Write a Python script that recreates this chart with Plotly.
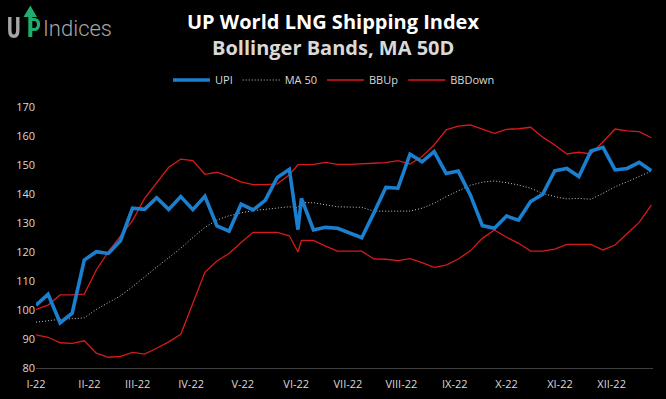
import plotly.graph_objects as go

# ---------------- data ----------------
dates = [
    "2022-01-01", "2022-01-08", "2022-01-15", "2022-01-22", "2022-01-29",
    "2022-02-05", "2022-02-12", "2022-02-19", "2022-02-26", "2022-03-05",
    "2022-03-12", "2022-03-19", "2022-03-26", "2022-04-02", "2022-04-09",
    "2022-04-16", "2022-04-23", "2022-04-30", "2022-05-07", "2022-05-14",
    "2022-05-21", "2022-05-28", "2022-06-02", "2022-06-04", "2022-06-11",
    "2022-06-18", "2022-06-25", "2022-07-02", "2022-07-09", "2022-07-16",
    "2022-07-23", "2022-07-30", "2022-08-06", "2022-08-13", "2022-08-20",
    "2022-08-27", "2022-09-03", "2022-09-10", "2022-09-17", "2022-09-24",
    "2022-10-01", "2022-10-08", "2022-10-15", "2022-10-22", "2022-10-29",
    "2022-11-05", "2022-11-12", "2022-11-19", "2022-11-26", "2022-12-03",
    "2022-12-10", "2022-12-17", "2022-12-24",
]

upi = [
    101.7, 105.4, 95.6, 98.9, 117.2, 120.1, 119.5, 123.9, 135.1, 134.7,
    138.7, 134.7, 139.1, 134.6, 139.2, 129.0, 127.2, 136.5, 134.5, 137.8,
    145.7, 148.5, 127.7, 138.5, 127.6, 128.5, 128.2, 126.6, 124.9, 133.4,
    142.3, 142.0, 153.7, 151.1, 154.6, 147.1, 147.9, 139.7, 129.1, 128.2,
    132.4, 131.0, 137.4, 139.9, 148.0, 148.8, 146.0, 154.8, 156.1, 148.3,
    148.8, 150.9, 148.0,
]

ma50 = [
    95.8, 96.3, 96.8, 97.0, 97.3, 100.2, 102.6, 104.9, 108.0, 111.5,
    114.8, 118.0, 121.3, 125.0, 128.5, 131.0, 132.5, 133.5, 134.3, 134.7,
    135.1, 135.6, 135.3, 137.0, 137.0, 136.4, 135.6, 135.5, 135.4, 134.1,
    134.1, 134.2, 134.1, 135.1, 136.8, 139.1, 141.1, 143.0, 144.1, 144.5,
    143.9, 143.1, 142.0, 140.2, 139.1, 138.3, 138.5, 138.2, 140.2, 142.5,
    144.2, 146.0, 147.9,
]

bb_up = [
    100.2, 101.7, 105.2, 105.2, 105.5, 113.8, 120.1, 125.3, 130.8, 138.5,
    143.7, 149.2, 152.0, 151.5, 146.8, 147.5, 146.0, 144.2, 143.2, 143.2,
    143.5, 146.6, 150.1, 150.1, 150.2, 150.9, 150.2, 150.2, 150.3, 150.6,
    150.8, 151.5, 150.3, 152.9, 156.9, 162.1, 163.4, 163.8, 162.4, 160.9,
    162.3, 162.5, 163.0, 159.6, 156.9, 153.8, 154.4, 153.8, 158.0, 162.4,
    161.8, 161.5, 159.4,
]

bb_down = [
    91.4, 90.6, 88.7, 88.5, 89.4, 85.1, 83.7, 84.0, 85.4, 84.8,
    86.8, 89.0, 91.6, 102.3, 113.0, 116.9, 119.5, 123.3, 126.8, 126.8,
    126.8, 125.6, 120.0, 124.0, 124.0, 122.0, 120.3, 120.3, 120.3, 117.6,
    117.5, 117.0, 117.7, 116.3, 114.7, 115.5, 117.6, 120.4, 124.7, 127.6,
    125.1, 123.0, 120.3, 120.3, 121.0, 122.6, 122.6, 122.6, 120.7, 122.4,
    126.4, 130.2, 136.2,
]

tick_dates = [
    "2022-01-01", "2022-02-01", "2022-03-01", "2022-04-01", "2022-05-01",
    "2022-06-01", "2022-07-01", "2022-08-01", "2022-09-01", "2022-10-01",
    "2022-11-01", "2022-12-01",
]
tick_labels = [
    "I-22", "II-22", "III-22", "IV-22", "V-22", "VI-22",
    "VII-22", "VIII-22", "IX-22", "X-22", "XI-22", "XII-22",
]
y_ticks = [80, 90, 100, 110, 120, 130, 140, 150, 160, 170]

title_text = "UP World LNG Shipping Index"
subtitle_text = "Bollinger Bands, MA 50D"

# ---------------- layout geometry ----------------
W, H = 666, 399
L, R, T, B = 36, 13, 107, 31
PW, PH = W - L - R, H - T - B


def px(x):
    return (x - L) / PW


def py(y):
    return (H - B - y) / PH


RED = "#d81a1a"
BLUE = "#1b7fd0"
GREY_TXT = "#d9d9d9"

fig = go.Figure()

fig.add_trace(go.Scatter(x=dates, y=bb_down, name="BBDown", mode="lines",
                         line=dict(color=RED, width=1.3), legendrank=4))
fig.add_trace(go.Scatter(x=dates, y=bb_up, name="BBUp", mode="lines",
                         line=dict(color=RED, width=1.3), legendrank=3))
fig.add_trace(go.Scatter(x=dates, y=ma50, name="MA 50", mode="lines",
                         line=dict(color="#c8c8c8", width=1, dash="1px,2px"),
                         legendrank=2))
fig.add_trace(go.Scatter(x=dates, y=upi, name="UPI", mode="lines",
                         line=dict(color=BLUE, width=3.6), legendrank=1))

# logo shapes ("U" and arrow-"P")
logo_grey = "#a6a6a6"
logo_green = "#1fae6e"
u_path = (f"M {px(9.8)},{py(17)} L {px(9.8)},{py(30)} "
          f"Q {px(9.8)},{py(36.3)} {px(13.8)},{py(36.3)} "
          f"Q {px(17.8)},{py(36.3)} {px(17.8)},{py(30)} L {px(17.8)},{py(17)}")
arrow_path = (f"M {px(23.5)},{py(17)} L {px(30.3)},{py(5.5)} L {px(37)},{py(17)} "
              f"L {px(32.3)},{py(17)} L {px(32.3)},{py(37)} L {px(28.3)},{py(37)} "
              f"L {px(28.3)},{py(17)} Z")
bowl_path = (f"M {px(32)},{py(19.5)} L {px(34)},{py(19.5)} "
             f"Q {px(38.5)},{py(19.5)} {px(38.5)},{py(24.5)} "
             f"Q {px(38.5)},{py(29.5)} {px(34)},{py(29.5)} L {px(32)},{py(29.5)}")

fig.update_layout(
    shapes=[
        dict(type="path", xref="paper", yref="paper", path=u_path,
             line=dict(color=logo_grey, width=3.4)),
        dict(type="path", xref="paper", yref="paper", path=arrow_path,
             fillcolor=logo_green, line=dict(width=0)),
        dict(type="path", xref="paper", yref="paper", path=bowl_path,
             line=dict(color=logo_green, width=3.2)),
    ],
    annotations=[
        dict(text="Indices", xref="paper", yref="paper", x=px(41), y=py(28),
             xanchor="left", yanchor="middle", showarrow=False,
             font=dict(family="Roboto", size=22, weight=300,
                       color=logo_grey)),
        dict(text=f"<b>{title_text}</b>", xref="paper", yref="paper",
             x=px(333), y=py(21), xanchor="center", yanchor="middle",
             showarrow=False,
             font=dict(family="Open Sans", size=20, color="#ffffff")),
        dict(text=f"<b>{subtitle_text}</b>", xref="paper", yref="paper",
             x=px(333), y=py(47), xanchor="center", yanchor="middle",
             showarrow=False,
             font=dict(family="Open Sans", size=20, color=GREY_TXT)),
    ],
)

fig.update_layout(
    width=W, height=H, autosize=False,
    margin=dict(l=L, r=R, t=T, b=B, pad=0, autoexpand=False),
    paper_bgcolor="#000000", plot_bgcolor="#000000",
    font=dict(family="Open Sans", size=11, color=GREY_TXT),
    showlegend=True,
    legend=dict(orientation="h", xref="paper", yref="paper",
                x=px(334), xanchor="center", y=py(80), yanchor="middle",
                font=dict(family="Open Sans", size=11, color=GREY_TXT),
                bgcolor="rgba(0,0,0,0)", itemwidth=37, tracegroupgap=0),
    xaxis=dict(
        type="date", range=["2022-01-01", "2022-12-25"],
        tickmode="array", tickvals=tick_dates, ticktext=tick_labels,
        showgrid=False, zeroline=False, showline=True,
        linecolor="#3f3f3f", linewidth=1, ticks="",
        ticklabelstandoff=6, automargin=False,
        tickfont=dict(family="Open Sans", size=11, color=GREY_TXT),
    ),
    yaxis=dict(
        range=[80, 170], tickmode="array", tickvals=y_ticks,
        showgrid=False, zeroline=False, showline=False, ticks="",
        ticklabelstandoff=0, automargin=False,
        tickfont=dict(family="Open Sans", size=11, color=GREY_TXT),
    ),
)

fig.write_html(
    "out.html",
    config={"displayModeBar": False, "staticPlot": True},
    post_script="document.body.style.margin='0px';document.body.style.background='#000';",
)
